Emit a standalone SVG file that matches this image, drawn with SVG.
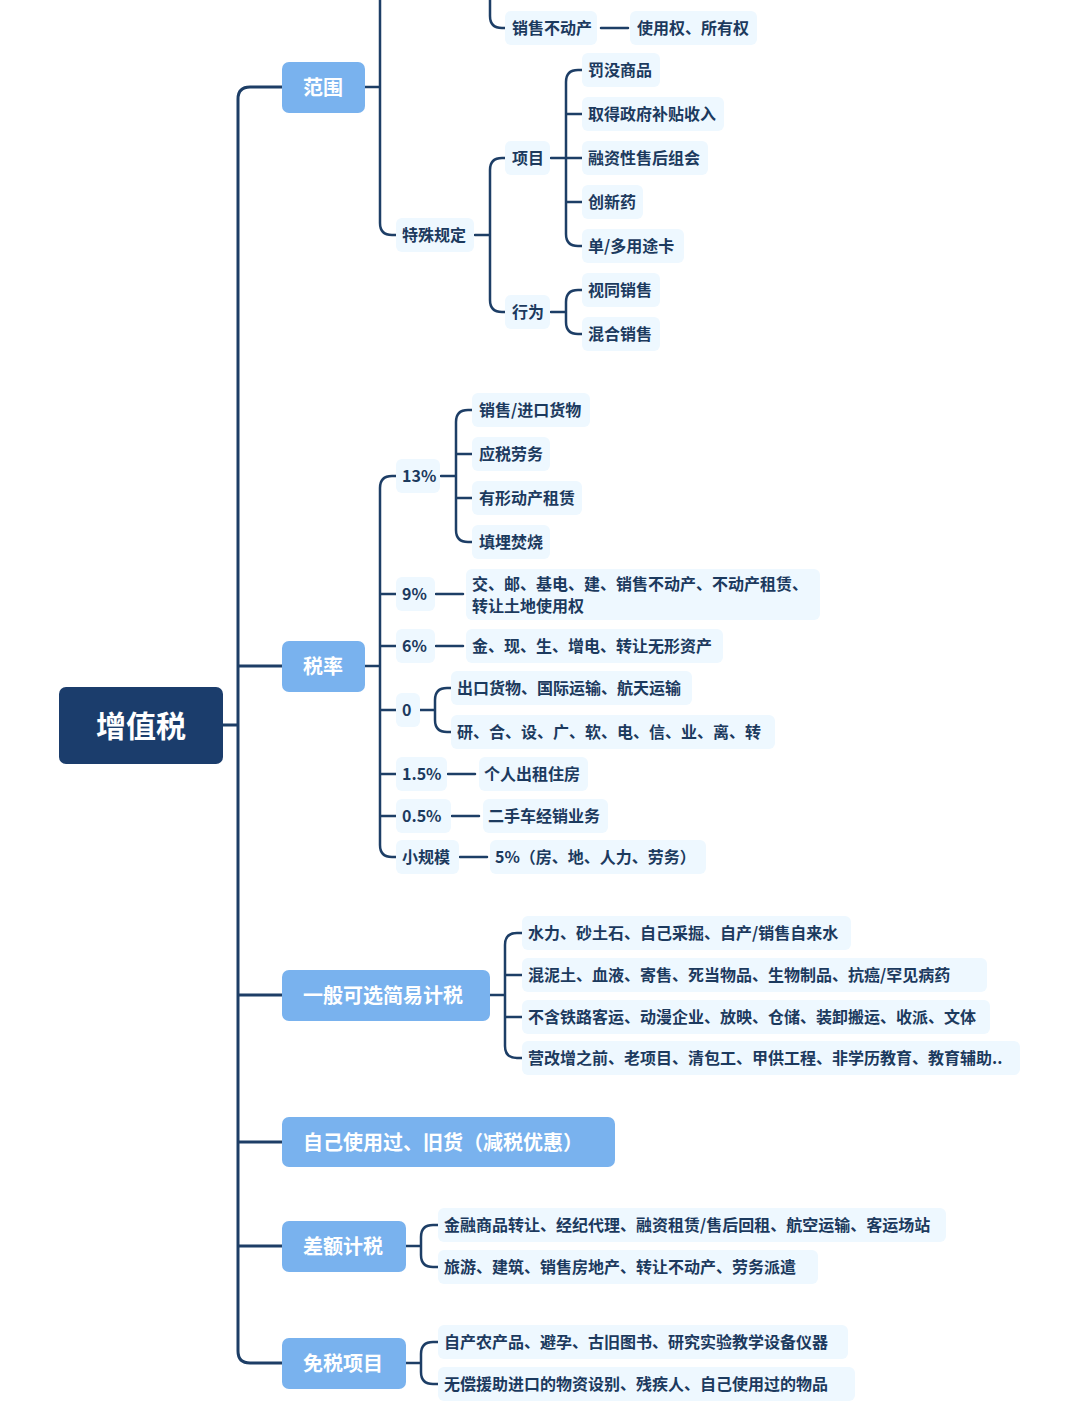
<svg xmlns="http://www.w3.org/2000/svg" width="1080" height="1411" viewBox="0 0 1080 1411">
<style>
.c{fill:none;stroke:#1d3e66;stroke-width:2.5;stroke-linecap:round}
.t{stroke-width:3}
.lb{fill:#eef8ff}
.tx{font-family:"Noto Sans CJK SC","Noto Sans",sans-serif;font-size:16px;font-weight:600;fill:#1c3a5e;dominant-baseline:central}
.bn{fill:#79b2ee}
.bt{font-family:"Noto Sans CJK SC","Noto Sans",sans-serif;font-size:20px;font-weight:700;fill:#fff;dominant-baseline:central}
</style>
<rect width="1080" height="1411" fill="#fff"/>
<g id="connectors">
<path class="c t" d="M223 725 H238 M282 87 H250 Q238 87 238 99 V1351 Q238 1363 250 1363 H282 M238 666 H282 M238 995 H282 M238 1142 H282 M238 1246 H282"/>
<path class="c" d="M365 87 H380 M380 0 V223 Q380 235 392 235 H396"/>
<path class="c" d="M490 0 V16 Q490 28 502 28 H505 M601 28 H628"/>
<path class="c" d="M475 235 H490 M505 158 H502 Q490 158 490 170 V300 Q490 312 502 312 H505"/>
<path class="c" d="M551 158 H582 M582 70 H578 Q566 70 566 82 V234 Q566 246 578 246 H582 M566 114 H582 M566 202 H582"/>
<path class="c" d="M551 312 H566 M582 290 H578 Q566 290 566 302 V322 Q566 334 578 334 H582"/>
<path class="c" d="M365 666 H380 M396 476 H392 Q380 476 380 488 V845 Q380 857 392 857 H396 M380 594 H396 M380 646 H396 M380 710 H396 M380 774 H396 M380 816 H396"/>
<path class="c" d="M441 476 H456 M472 410 H468 Q456 410 456 422 V530 Q456 542 468 542 H472 M456 454 H472 M456 498 H472"/>
<path class="c" d="M436 594 H463 M436 646 H463 M448 774 H475 M452 816 H479 M460 857 H487"/>
<path class="c" d="M420 710 H435 M451 688 H447 Q435 688 435 700 V720 Q435 732 447 732 H451"/>
<path class="c" d="M490 995 H505 M522 933 H517 Q505 933 505 945 V1046 Q505 1058 517 1058 H522 M505 975 H522 M505 1017 H522"/>
<path class="c" d="M406 1246 H421 M438 1225 H433 Q421 1225 421 1237 V1255 Q421 1267 433 1267 H438"/>
<path class="c" d="M406 1363 H421 M438 1342 H433 Q421 1342 421 1354 V1372 Q421 1384 433 1384 H438"/>
</g>
<g id="root"><rect x="59" y="687" width="164" height="77" rx="7" fill="#1b3d6c"/><text x="141" y="724" text-anchor="middle" class="bt" style="font-size:30px">增值税</text></g>
<g id="b1"><rect class="bn" x="282" y="62" width="83" height="51" rx="7"/><text class="bt" x="303" y="86">范围</text></g>
<g id="b2"><rect class="bn" x="282" y="641" width="83" height="51" rx="7"/><text class="bt" x="303" y="665">税率</text></g>
<g id="b3"><rect class="bn" x="282" y="970" width="208" height="51" rx="7"/><text class="bt" x="303" y="994">一般可选简易计税</text></g>
<g id="b4"><rect class="bn" x="282" y="1117" width="333" height="50" rx="7"/><text class="bt" x="303" y="1141">自己使用过、旧货（减税优惠）</text></g>
<g id="b5"><rect class="bn" x="282" y="1221" width="124" height="51" rx="7"/><text class="bt" x="303" y="1245">差额计税</text></g>
<g id="b6"><rect class="bn" x="282" y="1338" width="124" height="51" rx="7"/><text class="bt" x="303" y="1362">免税项目</text></g>
<g id="leaves">
<g><rect class="lb" x="505" y="11" width="92" height="34" rx="6"/><text class="tx" x="512" y="27">销售不动产</text></g>
<g><rect class="lb" x="630" y="11" width="127" height="34" rx="6"/><text class="tx" x="637" y="27">使用权、所有权</text></g>
<g><rect class="lb" x="396" y="218" width="78" height="34" rx="6"/><text class="tx" x="402" y="234">特殊规定</text></g>
<g><rect class="lb" x="505" y="141" width="45" height="34" rx="6"/><text class="tx" x="512" y="157">项目</text></g>
<g><rect class="lb" x="505" y="295" width="45" height="34" rx="6"/><text class="tx" x="512" y="311">行为</text></g>
<g><rect class="lb" x="582" y="53" width="78" height="34" rx="6"/><text class="tx" x="588" y="69">罚没商品</text></g>
<g><rect class="lb" x="582" y="97" width="142" height="34" rx="6"/><text class="tx" x="588" y="113">取得政府补贴收入</text></g>
<g><rect class="lb" x="582" y="141" width="126" height="34" rx="6"/><text class="tx" x="588" y="157">融资性售后组会</text></g>
<g><rect class="lb" x="582" y="185" width="61" height="34" rx="6"/><text class="tx" x="588" y="201">创新药</text></g>
<g><rect class="lb" x="582" y="229" width="102" height="34" rx="6"/><text class="tx" x="588" y="245">单/多用途卡</text></g>
<g><rect class="lb" x="582" y="273" width="78" height="34" rx="6"/><text class="tx" x="588" y="289">视同销售</text></g>
<g><rect class="lb" x="582" y="317" width="78" height="34" rx="6"/><text class="tx" x="588" y="333">混合销售</text></g>
<g><rect class="lb" x="396" y="459" width="44" height="34" rx="6"/><text class="tx" x="402" y="475">13%</text></g>
<g><rect class="lb" x="472" y="393" width="118" height="34" rx="6"/><text class="tx" x="479" y="409">销售/进口货物</text></g>
<g><rect class="lb" x="472" y="437" width="78" height="34" rx="6"/><text class="tx" x="479" y="453">应税劳务</text></g>
<g><rect class="lb" x="472" y="481" width="110" height="34" rx="6"/><text class="tx" x="479" y="497">有形动产租赁</text></g>
<g><rect class="lb" x="472" y="525" width="78" height="34" rx="6"/><text class="tx" x="479" y="541">填埋焚烧</text></g>
<g><rect class="lb" x="396" y="577" width="39" height="34" rx="6"/><text class="tx" x="402" y="593">9%</text></g>
<g><rect class="lb" x="466" y="569" width="354" height="51" rx="6"/><text class="tx" x="472" y="583">交、邮、基电、建、销售不动产、不动产租赁、</text><text class="tx" x="472" y="605">转让土地使用权</text></g>
<g><rect class="lb" x="396" y="629" width="39" height="34" rx="6"/><text class="tx" x="402" y="645">6%</text></g>
<g><rect class="lb" x="466" y="629" width="257" height="34" rx="6"/><text class="tx" x="472" y="645">金、现、生、增电、转让无形资产</text></g>
<g><rect class="lb" x="396" y="693" width="24" height="34" rx="6"/><text class="tx" x="402" y="709">0</text></g>
<g><rect class="lb" x="451" y="671" width="241" height="34" rx="6"/><text class="tx" x="457" y="687">出口货物、国际运输、航天运输</text></g>
<g><rect class="lb" x="451" y="715" width="324" height="34" rx="6"/><text class="tx" x="457" y="731">研、合、设、广、软、电、信、业、离、转</text></g>
<g><rect class="lb" x="396" y="757" width="51" height="34" rx="6"/><text class="tx" x="402" y="773">1.5%</text></g>
<g><rect class="lb" x="479" y="757" width="109" height="34" rx="6"/><text class="tx" x="484" y="773">个人出租住房</text></g>
<g><rect class="lb" x="396" y="799" width="55" height="34" rx="6"/><text class="tx" x="402" y="815">0.5%</text></g>
<g><rect class="lb" x="483" y="799" width="125" height="34" rx="6"/><text class="tx" x="488" y="815">二手车经销业务</text></g>
<g><rect class="lb" x="396" y="840" width="63" height="34" rx="6"/><text class="tx" x="402" y="856">小规模</text></g>
<g><rect class="lb" x="490" y="840" width="216" height="34" rx="6"/><text class="tx" x="495" y="856">5%（房、地、人力、劳务）</text></g>
<g><rect class="lb" x="522" y="916" width="329" height="34" rx="6"/><text class="tx" x="528" y="932">水力、砂土石、自己采掘、自产/销售自来水</text></g>
<g><rect class="lb" x="522" y="958" width="465" height="34" rx="6"/><text class="tx" x="528" y="974">混泥土、血液、寄售、死当物品、生物制品、抗癌/罕见病药</text></g>
<g><rect class="lb" x="522" y="1000" width="468" height="34" rx="6"/><text class="tx" x="528" y="1016">不含铁路客运、动漫企业、放映、仓储、装卸搬运、收派、文体</text></g>
<g><rect class="lb" x="522" y="1041" width="498" height="34" rx="6"/><text class="tx" x="528" y="1057">营改增之前、老项目、清包工、甲供工程、非学历教育、教育辅助..</text></g>
<g><rect class="lb" x="438" y="1208" width="508" height="34" rx="6"/><text class="tx" x="444" y="1224">金融商品转让、经纪代理、融资租赁/售后回租、航空运输、客运场站</text></g>
<g><rect class="lb" x="438" y="1250" width="380" height="34" rx="6"/><text class="tx" x="444" y="1266">旅游、建筑、销售房地产、转让不动产、劳务派遣</text></g>
<g><rect class="lb" x="438" y="1325" width="410" height="34" rx="6"/><text class="tx" x="444" y="1341">自产农产品、避孕、古旧图书、研究实验教学设备仪器</text></g>
<g><rect class="lb" x="438" y="1367" width="417" height="34" rx="6"/><text class="tx" x="444" y="1383">无偿援助进口的物资设别、残疾人、自己使用过的物品</text></g>
</g>
</svg>
